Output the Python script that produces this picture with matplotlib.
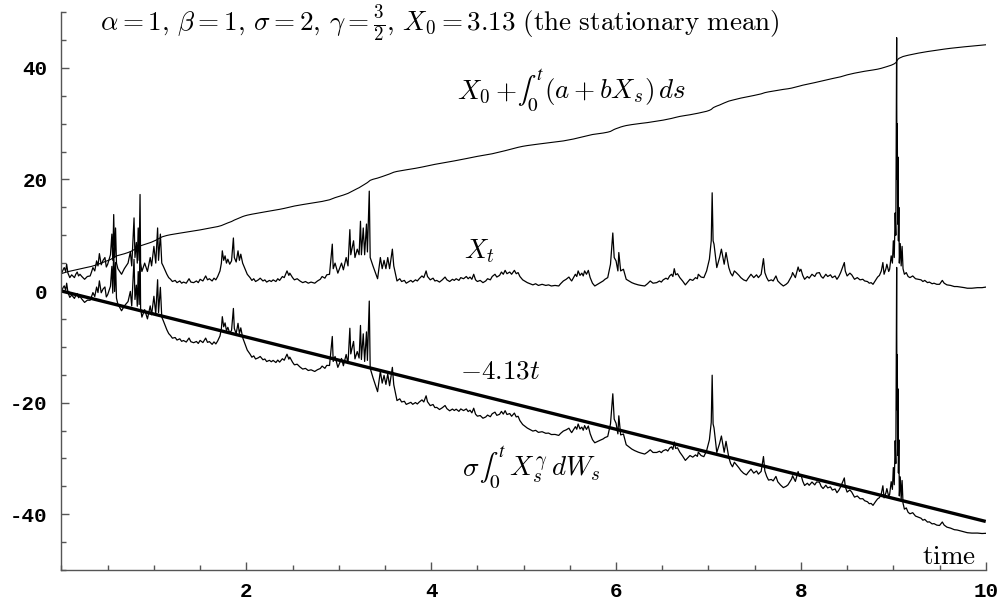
import numpy as np
import matplotlib.pyplot as plt
from matplotlib.ticker import MultipleLocator

plt.rcParams['mathtext.fontset'] = 'cm'
plt.rcParams['axes.unicode_minus'] = False

# Sample path of X_t: times and values, one row per stretch of the path
t_pts = [
    0.00, 0.02, 0.03, 0.045, 0.056, 0.07, 0.09, 0.11, 0.14, 0.155, 0.17, 0.185, 0.20, 0.22, 0.25, 0.28,
    0.31, 0.325, 0.34, 0.36, 0.38, 0.395, 0.41, 0.43, 0.45, 0.47, 0.485,
    0.50, 0.53, 0.545, 0.555, 0.565, 0.575, 0.585, 0.595, 0.61, 0.65, 0.68, 0.72, 0.745, 0.76, 0.785, 0.795,
    0.81, 0.82, 0.83, 0.84, 0.85, 0.856, 0.87, 0.90, 0.93, 0.96, 0.975, 1.00, 1.02, 1.04, 1.05, 1.07, 1.085, 1.10,
    1.14, 1.16, 1.18, 1.20, 1.23, 1.25, 1.28, 1.30, 1.32, 1.35, 1.38, 1.40, 1.43, 1.46, 1.48, 1.50,
    1.53, 1.56, 1.58, 1.60, 1.63, 1.65, 1.67, 1.69,
    1.715, 1.73, 1.74, 1.755, 1.77, 1.785, 1.80, 1.82, 1.84, 1.86, 1.87, 1.89, 1.91, 1.925, 1.94, 1.96, 1.98, 2.01,
    2.04, 2.06, 2.08, 2.10, 2.13, 2.15, 2.18, 2.20, 2.22, 2.25, 2.27, 2.29, 2.32, 2.34, 2.36, 2.39, 2.41,
    2.44, 2.46, 2.47, 2.50, 2.52, 2.55, 2.58, 2.61, 2.64, 2.67, 2.70, 2.74, 2.77, 2.80, 2.82, 2.85, 2.87,
    2.90, 2.93, 2.94, 2.96, 2.99, 3.03, 3.05, 3.08, 3.10, 3.12, 3.13, 3.16, 3.175, 3.20, 3.22, 3.235, 3.245,
    3.265, 3.28, 3.30, 3.31, 3.33, 3.34, 3.37, 3.42, 3.45, 3.47, 3.49, 3.51, 3.53, 3.55, 3.58, 3.595,
    3.63, 3.66, 3.68, 3.71, 3.73, 3.76, 3.78, 3.80, 3.83, 3.85, 3.87, 3.90, 3.92, 3.945, 3.96, 3.99, 4.02, 4.04,
    4.06, 4.09, 4.12, 4.15, 4.17, 4.20, 4.23, 4.25, 4.27, 4.30, 4.32, 4.35, 4.38, 4.40, 4.42, 4.44, 4.46, 4.48,
    4.50, 4.53, 4.56, 4.59, 4.61, 4.64, 4.66, 4.69, 4.71, 4.74, 4.76, 4.78, 4.80, 4.82, 4.85, 4.87, 4.90, 4.92,
    4.94, 4.96, 4.99, 5.01, 5.04, 5.07,
    5.10, 5.13, 5.16, 5.20, 5.24, 5.27, 5.30, 5.34, 5.38, 5.40, 5.43, 5.46, 5.49, 5.51, 5.52, 5.54, 5.56,
    5.575, 5.59, 5.61, 5.63, 5.645, 5.66, 5.68, 5.70, 5.72, 5.745, 5.77, 5.80, 5.83, 5.86, 5.88, 5.91,
    5.94, 5.965, 5.98, 6.00, 6.02, 6.03, 6.05, 6.08,
    6.11, 6.14, 6.17, 6.20, 6.24, 6.27, 6.31, 6.34, 6.37, 6.40, 6.44, 6.47, 6.49, 6.51, 6.54, 6.56, 6.58,
    6.60, 6.615, 6.63, 6.645, 6.665, 6.69, 6.72, 6.75, 6.78, 6.80, 6.83, 6.86, 6.88, 6.89, 6.92, 6.95, 6.98,
    7.01, 7.03, 7.04, 7.05, 7.06, 7.09, 7.12, 7.14, 7.17, 7.19,
    7.22, 7.24, 7.26, 7.28, 7.30, 7.33, 7.35, 7.38, 7.41, 7.43, 7.46, 7.48, 7.49, 7.52, 7.54, 7.57, 7.595,
    7.61, 7.63, 7.65, 7.68, 7.70, 7.73, 7.75, 7.78, 7.81, 7.84, 7.86, 7.88, 7.90, 7.91, 7.94, 7.97, 7.985,
    8.00, 8.02, 8.04, 8.07, 8.09, 8.12, 8.15, 8.17, 8.20, 8.22, 8.24, 8.27, 8.29, 8.32, 8.34, 8.37, 8.39,
    8.41, 8.43, 8.47, 8.48, 8.50, 8.53, 8.55, 8.58, 8.61, 8.64, 8.67, 8.69, 8.72, 8.74, 8.76, 8.78, 8.81,
    8.83, 8.85, 8.87, 8.887, 8.90, 8.92, 8.93, 8.95, 8.96, 8.977,
    8.99, 9.00, 9.01, 9.02, 9.027, 9.032, 9.036, 9.039, 9.043, 9.047, 9.051, 9.055, 9.06, 9.065, 9.075,
    9.085, 9.095, 9.105,
    9.12, 9.14, 9.16, 9.18, 9.21, 9.24, 9.27, 9.30, 9.32, 9.34, 9.37, 9.39, 9.42, 9.44, 9.47, 9.50,
    9.53, 9.55, 9.58, 9.62, 9.66, 9.69, 9.73, 9.77, 9.80, 9.85, 9.91, 9.96, 10.00,
]
x_pts = [
    3.13, 3.9, 4.2, 3.5, 4.8, 3.2, 2.4, 2.9, 2.4, 3.0, 3.4, 2.7, 3.0, 2.6, 2.1, 2.6,
    2.7, 3.4, 4.2, 3.6, 5.4, 4.5, 6.7, 4.7, 5.5, 6.0, 4.3,
    4.8, 6.5, 10.2, 5.5, 13.7, 6.0, 11.3, 5.0, 4.0, 3.0, 4.0, 5.0, 7.0, 4.5, 13.1, 6.0,
    8.7, 5.0, 11.3, 5.5, 17.3, 5.0, 3.5, 5.0, 3.5, 6.0, 4.5, 8.0, 5.0, 11.3, 5.5, 10.2, 5.0, 4.5,
    3.0, 2.4, 2.1, 1.7, 1.9, 1.5, 1.8, 1.4, 1.6, 1.4, 2.2, 1.6, 1.5, 1.8, 1.5, 2.1,
    1.8, 2.7, 2.0, 2.2, 1.8, 2.3, 2.0, 2.6,
    3.6, 5.0, 7.2, 5.5, 6.3, 5.0, 5.7, 4.8, 5.4, 9.5, 6.0, 5.2, 7.2, 5.5, 6.6, 5.0, 4.2, 3.0,
    2.4, 1.9, 2.2, 1.7, 2.0, 2.3, 1.8, 2.0, 1.6, 1.9, 1.7, 2.0, 1.7, 2.2, 1.9, 2.6, 2.4,
    3.6, 2.8, 3.2, 2.4, 2.0, 2.2, 1.8, 1.5, 1.7, 1.4, 1.6, 1.4, 1.8, 2.1, 2.6, 2.3, 2.9,
    3.0, 8.4, 4.0, 5.0, 3.2, 5.0, 3.8, 6.0, 4.5, 11.0, 6.5, 9.0, 6.0, 7.5, 6.5, 12.5, 6.5,
    11.3, 6.5, 12.0, 7.0, 17.9, 6.0, 4.5, 2.2, 6.0, 4.0, 5.5, 4.0, 6.0, 4.0, 7.5, 4.5,
    1.8, 2.2, 1.7, 1.9, 1.4, 1.7, 1.9, 1.6, 2.0, 1.8, 2.2, 2.7, 2.4, 3.6, 2.6, 2.0, 2.3, 1.8,
    1.9, 1.6, 2.0, 2.5, 2.0, 1.7, 2.1, 1.9, 2.2, 1.9, 2.4, 2.2, 2.6, 2.2, 2.5, 2.1, 3.0, 2.0,
    1.7, 1.9, 1.5, 1.8, 2.2, 2.0, 2.6, 3.0, 2.5, 2.8, 3.4, 3.0, 3.7, 3.1, 3.4, 3.0, 3.7, 3.1,
    3.3, 2.6, 2.0, 1.8, 1.5, 1.3,
    1.1, 1.3, 1.0, 1.2, 1.0, 1.1, 0.9, 1.0, 0.9, 1.3, 1.8, 2.1, 2.5, 2.0, 1.8, 2.4, 3.0,
    2.6, 3.6, 2.8, 3.2, 2.7, 3.6, 3.0, 3.7, 2.4, 1.4, 0.9, 1.2, 1.5, 1.8, 2.1, 2.4,
    4.8, 10.4, 6.0, 5.4, 3.6, 6.9, 3.6, 3.9,
    2.1, 1.8, 1.5, 1.3, 1.1, 1.0, 0.9, 1.3, 1.8, 1.4, 1.5, 1.8, 1.6, 2.0, 2.3, 2.1, 2.7,
    3.0, 2.6, 4.0, 2.9, 3.1, 2.4, 1.8, 1.1, 1.7, 2.1, 1.9, 2.4, 2.2, 3.0, 2.5, 2.4, 3.6,
    5.7, 9.0, 17.6, 9.0, 8.4, 4.2, 6.0, 7.5, 4.8, 6.9,
    4.2, 3.2, 2.7, 3.6, 3.3, 2.8, 2.4, 2.0, 1.8, 2.3, 3.0, 2.6, 2.4, 2.9, 2.4, 3.0, 5.8,
    3.3, 2.4, 1.8, 2.0, 1.8, 2.7, 1.8, 1.3, 0.9, 1.2, 1.5, 2.1, 2.7, 3.3, 2.4, 4.3, 3.5,
    3.9, 2.8, 2.1, 2.6, 2.3, 3.0, 2.6, 3.2, 3.3, 2.6, 2.3, 3.0, 2.6, 2.9, 2.4, 2.7, 2.1,
    2.6, 3.3, 5.1, 3.6, 2.7, 3.2, 2.9, 2.1, 2.4, 2.0, 2.1, 1.8, 1.7, 1.4, 1.5, 1.2, 2.0,
    2.5, 2.8, 3.6, 5.1, 3.0, 4.0, 4.8, 3.5, 3.9, 6.3,
    5.0, 9.0, 6.0, 14.0, 10.0, 28.0, 45.4, 20.0, 30.0, 12.0, 24.0, 9.0, 15.0, 5.0, 8.5,
    4.5, 8.0, 4.0,
    3.0, 3.3, 2.6, 2.4, 2.7, 2.2, 2.1, 2.0, 1.7, 1.9, 1.5, 1.6, 1.3, 1.4, 1.2, 1.2,
    1.9, 1.4, 1.1, 1.0, 0.8, 0.8, 0.7, 0.6, 0.5, 0.5, 0.6, 0.6, 0.7,
]

X0 = 3.13
a, b = 1.0, 1.0
mean_slope = 4.13

t = np.array(t_pts)
x = np.array(x_pts)

# drift part: X0 + int_0^t (a + b X_s) ds, noise part is what is left over
f = a + b * x
drift = X0 + np.concatenate([[0.0], np.cumsum(0.5 * (f[1:] + f[:-1]) * np.diff(t))])
noise = x - drift

fig = plt.figure(figsize=(10.03, 6.04), dpi=100)
ax = fig.add_axes([0.0613, 0.0563, 0.9215, 0.9238])

ax.plot(t, x, color='black', lw=0.9)
ax.plot(t, drift, color='black', lw=0.8)
ax.plot(t, noise, color='black', lw=0.9)
tt = np.array([0.0, 10.0])
ax.plot(tt, -mean_slope * tt, color='black', lw=2.4, solid_capstyle='butt')

ax.set_xlim(0, 10)
ax.set_ylim(-50, 50)
for s in ['top', 'right']:
    ax.spines[s].set_visible(False)
for s in ['left', 'bottom']:
    ax.spines[s].set_color('#555555')
    ax.spines[s].set_linewidth(1.0)

ax.xaxis.set_major_locator(MultipleLocator(2))
ax.xaxis.set_minor_locator(MultipleLocator(0.5))
ax.yaxis.set_major_locator(MultipleLocator(20))
ax.yaxis.set_minor_locator(MultipleLocator(5))
ax.set_xticks([2, 4, 6, 8, 10])
ax.tick_params(which='both', direction='in', color='#555555', width=1.0)
ax.tick_params(which='major', length=6)
ax.tick_params(which='minor', length=3.5)
ax.tick_params(axis='x', pad=9)
ax.tick_params(axis='y', pad=10)
for lab in ax.get_xticklabels() + ax.get_yticklabels():
    lab.set_fontfamily('Liberation Mono')
    lab.set_fontweight('bold')
    lab.set_fontsize(15)

fs = 19.5
renderer = fig.canvas.get_renderer()


def label(x0, y0, pieces):
    # lay pieces side by side on one baseline; the integral sign comes from stix (text-size)
    for s, kw in pieces:
        txt = ax.text(x0, y0, s, va='baseline', ha='left', fontsize=fs, **kw)
        bb = txt.get_window_extent(renderer)
        x0 = ax.transData.inverted().transform((bb.x1, bb.y0))[0]


stix = {'math_fontfamily': 'stix'}
ax.text(0.417, 46.6, r'$\alpha=1,\,\beta=1,\,\sigma=2,\,\gamma=\frac{3}{2},\,X_0=3.13\ \mathrm{(the\ stationary\ mean)}$',
        fontsize=fs, va='baseline', ha='left')
label(4.28, 34.6, [(r'$X_0+\,$', {}), (r'$\int_0^t$', stix), (r'$(a+bX_s)\,ds$', {})])
ax.text(4.35, 5.9, r'$X_t$', fontsize=fs, va='baseline', ha='left')
ax.text(4.31, -15.6, r'$-4.13t$', fontsize=fs, va='baseline', ha='left')
label(4.33, -33.1, [(r'$\sigma\,$', {}), (r'$\int_0^t$', stix), (r'$\,X_s^{\gamma}\,dW_s$', {})])
ax.text(9.89, -48.9, r'$\mathrm{time}$', fontsize=fs, va='baseline', ha='right')

fig.savefig('out.png', dpi=100)
